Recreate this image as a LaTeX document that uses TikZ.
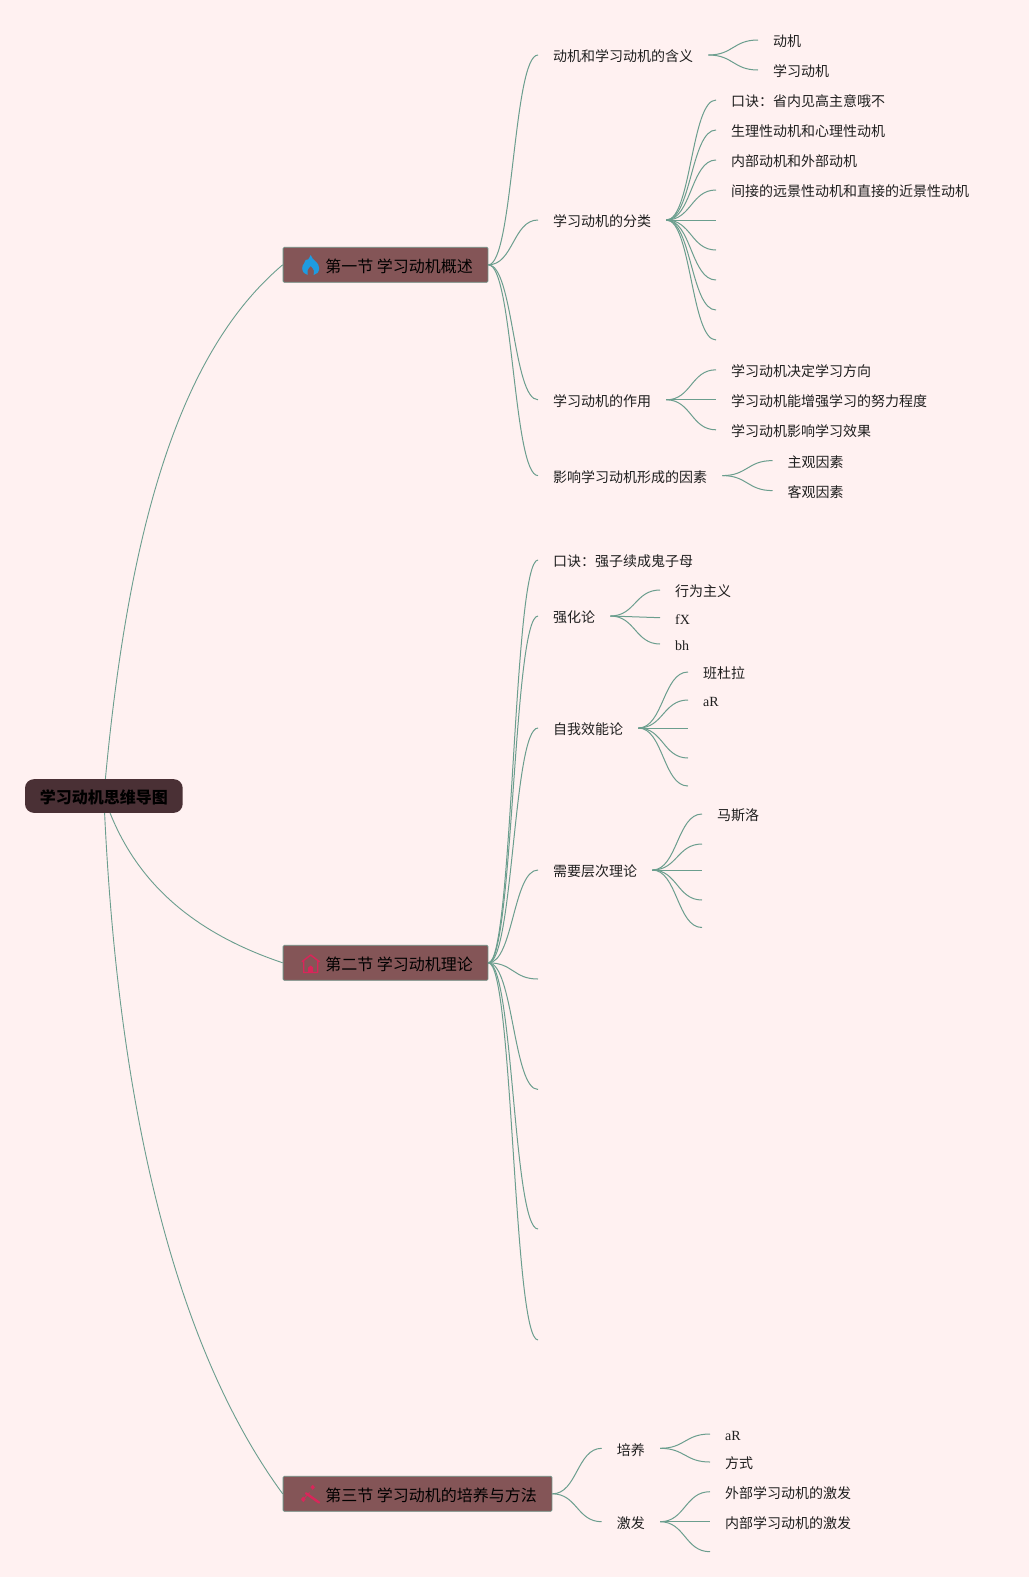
\documentclass[tikz,border=0pt]{standalone}
\usepackage{fontspec}
\setmainfont{Liberation Serif}
\newfontfamily\cjk{Noto Sans CJK SC}
\usetikzlibrary{calc,backgrounds}
\definecolor{pagebg}{HTML}{FFF1F1}
\definecolor{linkcol}{HTML}{6B9E8E}
\definecolor{rootcol}{HTML}{4A3035}
\definecolor{seccol}{HTML}{845557}
\definecolor{secline}{HTML}{6F8F84}
\definecolor{flamecol}{HTML}{1E9BE0}
\definecolor{iconred}{HTML}{D9265A}
\tikzset{
    rootnode/.style={fill=rootcol,rounded corners=9pt,minimum width=157.7pt,minimum height=33.7pt,inner sep=0pt,text height=15pt,text depth=1pt,font=\cjk\bfseries\fontsize{16}{16}\selectfont},
    secnode/.style={anchor=west,fill=seccol,draw=secline,line width=0.8pt,rounded corners=1.2pt,minimum height=35pt,inner xsep=15pt,inner ysep=0pt,text height=15pt,text depth=0.6pt,font=\cjk\fontsize{16}{16}\selectfont},
    leaf/.style={anchor=west,inner xsep=15pt,inner ysep=0pt,text height=14pt,text depth=0.4pt,text=black!88,font=\cjk\fontsize{14}{14}\selectfont},
    latinleaf/.style={leaf,font=\rmfamily\fontsize{14}{14}\selectfont},
    link/.style={draw=linkcol,line width=1pt,to path={let \p1=(\tikztostart),\p2=(\tikztotarget),\n1={0.5*(\x1+\x2)} in .. controls (\n1,\y1) and (\n1,\y2) .. (\tikztotarget)}},
    rootlink/.style={draw=linkcol,line width=0.9pt},
    flameicon/.pic={
        \fill[flamecol] (0,-10) .. controls (1,-5) and (8.5,-3) .. (8.5,3) .. controls (8.5,7) and (6,9.5) .. (3,10)
            .. controls (4.5,7) and (3,4) .. (0,1) .. controls (-3,4) and (-4.5,7) .. (-3,10)
            .. controls (-6,9.5) and (-8.5,7) .. (-8.5,3) .. controls (-8.5,-1) and (-5,-2) .. (-5,-5)
            .. controls (-3,-4) and (-2,-6) .. (0,-10) -- cycle;
    },
    houseicon/.pic={
        \draw[iconred,line width=1.4pt,line join=round] (-7,9.5) -- (-7,-1.5) -- (-8.5,-1.5) -- (0,-8) -- (8.5,-1.5) -- (7,-1.5) -- (7,9.5) -- cycle;
        \fill[iconred] (-2.5,9.5) -- (-2.5,4.5) -- (0,2.5) -- (2.5,4.5) -- (2.5,9.5) -- cycle;
    },
    wandicon/.pic={
        \draw[iconred,line width=2.4pt,line cap=round] (-4.7,-0.7) -- (8.3,8.5);
        \draw[iconred,line width=0.8pt] (-7.4,5.3) -- (-1,-1.5);
        \fill[iconred] (-7.4,2.5) -- (-5,5.3) -- (-7.4,8.1) -- (-9.8,5.3) -- cycle;
        \fill[iconred] (2,-9.2) -- (4.2,-6.7) -- (2,-4.2) -- (-0.2,-6.7) -- cycle;
    },
}
\begin{document}
\begin{tikzpicture}[x=1pt,y=-1pt]
    \useasboundingbox (0,0) rectangle (1029,1577);
    \begin{scope}[on background layer]
        \fill[pagebg] (0,0) rectangle (1029,1577);
    \end{scope}

    \node[rootnode] (root) at (103.85,796) {学习动机思维导图};
    \node[secnode] (sec1) at (282.7,264.8) {\hspace{27.3pt}第一节 学习动机概述};
    \node[secnode] (sec2) at (282.7,962.8) {\hspace{27.3pt}第二节 学习动机理论};
    \node[secnode] (sec3) at (282.7,1493.8) {\hspace{27.3pt}第三节 学习动机的培养与方法};
    \pic at ($(sec1.west)+(28,0.2)$) {flameicon};
    \pic at ($(sec2.west)+(28,0.2)$) {houseicon};
    \pic at ($(sec3.west)+(28,0.2)$) {wandicon};

    \node[leaf] (meaning) at (538,55) {动机和学习动机的含义};
    \node[leaf] (m1) at (758,40) {动机};
    \node[leaf] (m2) at (758,70) {学习动机};

    \node[leaf] (kinds) at (538,220) {学习动机的分类};
    \node[leaf] (k1) at (716,100) {口诀：省内见高主意哦不};
    \node[leaf] (k2) at (716,130) {生理性动机和心理性动机};
    \node[leaf] (k3) at (716,160) {内部动机和外部动机};
    \node[leaf] (k4) at (716,190) {间接的远景性动机和直接的近景性动机};
    \coordinate (k5) at (716,220);
    \coordinate (k6) at (716,250);
    \coordinate (k7) at (716,280);
    \coordinate (k8) at (716,310);
    \coordinate (k9) at (716,340);

    \node[leaf] (role) at (538,399.8) {学习动机的作用};
    \node[leaf] (r1) at (716,369.8) {学习动机决定学习方向};
    \node[leaf] (r2) at (716,399.8) {学习动机能增强学习的努力程度};
    \node[leaf] (r3) at (716,429.8) {学习动机影响学习效果};

    \node[leaf] (factor) at (538,475.6) {影响学习动机形成的因素};
    \node[leaf] (f1) at (772.5,460.6) {主观因素};
    \node[leaf] (f2) at (772.5,490.6) {客观因素};

    \node[leaf] (rhyme) at (538,560) {口诀：强子续成鬼子母};

    \node[leaf] (reinf) at (538,616) {强化论};
    \node[leaf] (i1) at (660,590) {行为主义};
    \node[latinleaf] (i2) at (660,617.7) {fX};
    \node[latinleaf] (i3) at (660,644) {bh};

    \node[leaf] (effic) at (538,728) {自我效能论};
    \node[leaf] (e1) at (688,672) {班杜拉};
    \node[latinleaf] (e2) at (688,700) {aR};
    \coordinate (e3) at (688,728);
    \coordinate (e4) at (688,758);
    \coordinate (e5) at (688,786);

    \node[leaf] (needs) at (538,870) {需要层次理论};
    \node[leaf] (n1) at (702,814) {马斯洛};
    \coordinate (n2) at (702,844);
    \coordinate (n3) at (702,870);
    \coordinate (n4) at (702,900);
    \coordinate (n5) at (702,927.5);

    \coordinate (t5) at (538,979);
    \coordinate (t6) at (538,1089.5);
    \coordinate (t7) at (538,1229);
    \coordinate (t8) at (538,1340);

    \node[leaf] (foster) at (601.7,1448.3) {培养};
    \node[latinleaf] (o1) at (710,1434) {aR};
    \node[leaf] (o2) at (710,1462) {方式};

    \node[leaf] (arouse) at (601.7,1521.7) {激发};
    \node[leaf] (a1) at (710,1491.7) {外部学习动机的激发};
    \node[leaf] (a2) at (710,1521.7) {内部学习动机的激发};
    \coordinate (a3) at (710,1551.7);

    \begin{scope}[on background layer]
        \draw[rootlink] (root.center) .. controls (128,520) and (182,350) .. (sec1.west);
        \draw[rootlink] (root.center) .. controls (125,860) and (170,925) .. (sec2.west);
        \draw[rootlink] (root.center) .. controls (116,1090) and (170,1340) .. (sec3.west);

        \draw[link] (sec1.east) to (meaning.west);
        \draw[link] (sec1.east) to (kinds.west);
        \draw[link] (sec1.east) to (role.west);
        \draw[link] (sec1.east) to (factor.west);
        \draw[link] (meaning.east) to (m1.west);
        \draw[link] (meaning.east) to (m2.west);
        \draw[link] (kinds.east) to (k1.west);
        \draw[link] (kinds.east) to (k2.west);
        \draw[link] (kinds.east) to (k3.west);
        \draw[link] (kinds.east) to (k4.west);
        \draw[link] (kinds.east) to (k5);
        \draw[link] (kinds.east) to (k6);
        \draw[link] (kinds.east) to (k7);
        \draw[link] (kinds.east) to (k8);
        \draw[link] (kinds.east) to (k9);
        \draw[link] (role.east) to (r1.west);
        \draw[link] (role.east) to (r2.west);
        \draw[link] (role.east) to (r3.west);
        \draw[link] (factor.east) to (f1.west);
        \draw[link] (factor.east) to (f2.west);

        \draw[link] (sec2.east) to (rhyme.west);
        \draw[link] (sec2.east) to (reinf.west);
        \draw[link] (sec2.east) to (effic.west);
        \draw[link] (sec2.east) to (needs.west);
        \draw[link] (sec2.east) to (t5);
        \draw[link] (sec2.east) to (t6);
        \draw[link] (sec2.east) to (t7);
        \draw[link] (sec2.east) to (t8);
        \draw[link] (reinf.east) to (i1.west);
        \draw[link] (reinf.east) to (i2.west);
        \draw[link] (reinf.east) to (i3.west);
        \draw[link] (effic.east) to (e1.west);
        \draw[link] (effic.east) to (e2.west);
        \draw[link] (effic.east) to (e3);
        \draw[link] (effic.east) to (e4);
        \draw[link] (effic.east) to (e5);
        \draw[link] (needs.east) to (n1.west);
        \draw[link] (needs.east) to (n2);
        \draw[link] (needs.east) to (n3);
        \draw[link] (needs.east) to (n4);
        \draw[link] (needs.east) to (n5);

        \draw[link] (sec3.east) to (foster.west);
        \draw[link] (sec3.east) to (arouse.west);
        \draw[link] (foster.east) to (o1.west);
        \draw[link] (foster.east) to (o2.west);
        \draw[link] (arouse.east) to (a1.west);
        \draw[link] (arouse.east) to (a2.west);
        \draw[link] (arouse.east) to (a3);
    \end{scope}
\end{tikzpicture}
\end{document}
